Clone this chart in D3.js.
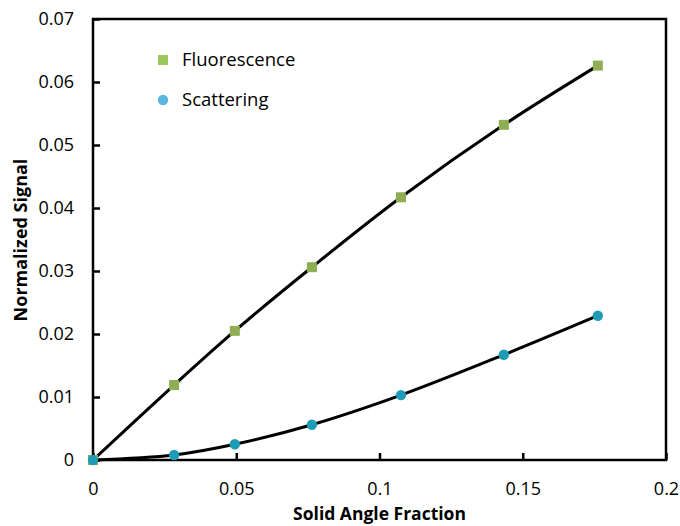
<!DOCTYPE html>
<html>
<head>
<meta charset="utf-8">
<script src="https://cdn.jsdelivr.net/npm/d3@7"></script>
<style>
  body { margin: 0; background: #fff; }
  text { font-family: 'Open Sans', sans-serif; }
</style>
</head>
<body>
<div id="chart"></div>
<script>
// data
const solidAngle = [0, 0.0283, 0.0495, 0.0764, 0.1075, 0.1434, 0.1762];
const fluorescence = [0, 0.0119, 0.0205, 0.0306, 0.0417, 0.0532, 0.0626];
const scattering = [0, 0.0008, 0.0025, 0.0056, 0.0103, 0.0167, 0.0229];
const xTicks = [0, 0.05, 0.1, 0.15, 0.2];
const yTicks = [0, 0.01, 0.02, 0.03, 0.04, 0.05, 0.06, 0.07];

const W = 680, H = 526;
const margin = { top: 19, right: 14, bottom: 66, left: 93 };
const width = W - margin.left - margin.right;
const height = H - margin.top - margin.bottom;

const svg = d3.select('#chart').append('svg')
  .attr('width', W).attr('height', H);
const g = svg.append('g')
  .attr('transform', `translate(${margin.left},${margin.top})`);

const x = d3.scaleLinear().domain([0, 0.2]).range([0, width]);
const y = d3.scaleLinear().domain([0, 0.07]).range([height, 0]);

// frame
g.append('rect')
  .attr('width', width).attr('height', height)
  .attr('fill', 'none').attr('stroke', '#000').attr('stroke-width', 2.5);

// axes with inward ticks
const fmt = d => d === 0 ? '0' : String(d);
const xAxis = g.append('g').attr('transform', `translate(0,${height})`)
  .call(d3.axisBottom(x).tickValues(xTicks).tickSize(-7).tickPadding(22).tickFormat(fmt));
const yAxis = g.append('g')
  .call(d3.axisLeft(y).tickValues(yTicks).tickSize(-7).tickPadding(19).tickFormat(fmt));
[xAxis, yAxis].forEach(a => {
  a.select('.domain').remove();
  a.selectAll('.tick line').attr('stroke', '#000').attr('stroke-width', 2.5);
  a.selectAll('.tick text').attr('font-size', 18).attr('fill', '#000')
    .attr('font-family', "'Open Sans', sans-serif");
});

// smooth lines
const line = d3.line().x(d => x(d[0])).y(d => y(d[1])).curve(d3.curveCatmullRom.alpha(0.5));
const fl = solidAngle.map((v, i) => [v, fluorescence[i]]);
const sc = solidAngle.map((v, i) => [v, scattering[i]]);
[fl, sc].forEach(pts => {
  g.append('path').datum(pts).attr('d', line)
    .attr('fill', 'none').attr('stroke', '#000').attr('stroke-width', 3);
});

// markers
const sq = 10;
g.selectAll('.fl').data(fl).enter().append('rect')
  .attr('class', 'fl')
  .attr('x', d => x(d[0]) - sq / 2).attr('y', d => y(d[1]) - sq / 2)
  .attr('width', sq).attr('height', sq).attr('fill', '#8fad52');
g.selectAll('.sc').data(sc).enter().append('circle')
  .attr('class', 'sc')
  .attr('cx', d => x(d[0])).attr('cy', d => y(d[1]))
  .attr('r', 5.2).attr('fill', '#1e9cb6');

// legend
const legend = svg.append('g');
legend.append('rect').attr('x', 158).attr('y', 55).attr('width', 10).attr('height', 10).attr('fill', '#9bc75a');
legend.append('text').attr('x', 182).attr('y', 66).attr('font-size', 18.5).text('Fluorescence');
legend.append('circle').attr('cx', 163).attr('cy', 100).attr('r', 5.2).attr('fill', '#5bb6dd');
legend.append('text').attr('x', 182).attr('y', 106).attr('font-size', 18.5).text('Scattering');

// axis titles
svg.append('text')
  .attr('x', margin.left + width / 2).attr('y', 520)
  .attr('text-anchor', 'middle').attr('font-size', 17.5).attr('font-weight', 'bold')
  .text('Solid Angle Fraction');
svg.append('text')
  .attr('transform', `translate(27,240) rotate(-90)`)
  .attr('text-anchor', 'middle').attr('font-size', 18).attr('font-weight', 'bold')
  .text('Normalized Signal');
</script>
</body>
</html>
